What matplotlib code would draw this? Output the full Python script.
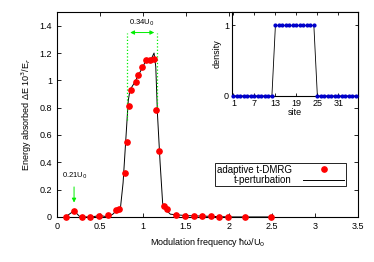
import matplotlib
matplotlib.use("Agg")
import matplotlib.pyplot as plt
from matplotlib.ticker import FuncFormatter
import numpy as np

plt.rcParams['font.family'] = ['Liberation Sans', 'DejaVu Sans']
plt.rcParams['font.size'] = 6.5

# adaptive t-DMRG points
dmrg_x = [0.11, 0.2, 0.29, 0.39, 0.49, 0.59, 0.69, 0.72, 0.79, 0.81, 0.84, 0.86,
          0.915, 0.94, 0.99, 1.04, 1.08, 1.13, 1.155, 1.19, 1.24, 1.28, 1.39, 1.49,
          1.59, 1.69, 1.79, 1.89, 1.99, 2.19, 2.49]
dmrg_y = [0.0, 0.04, 0.0, 0.0, 0.01, 0.017, 0.053, 0.06, 0.325, 0.55, 0.81, 0.93,
          0.99, 1.04, 1.097, 1.15, 1.15, 1.157, 0.78, 0.486, 0.08, 0.06, 0.017, 0.01,
          0.005, 0.005, 0.005, 0.003, 0.003, 0.003, 0.003]

# t-perturbation curve
pert_x = [0.1, 0.2, 0.27, 0.4, 0.5, 0.6, 0.65, 0.7, 0.74, 0.77, 0.8, 0.83, 0.85,
          0.9, 0.95, 1.0, 1.04, 1.1, 1.13, 1.15, 1.17, 1.2, 1.23, 1.27, 1.32, 1.4,
          1.5, 2.0, 2.5]
pert_y = [0.0, 0.045, 0.0, 0.0, 0.01, 0.0, 0.02, 0.05, 0.07, 0.25, 0.55, 0.85, 0.93,
          0.98, 1.04, 1.1, 1.15, 1.16, 1.2, 1.1, 0.75, 0.4, 0.1, 0.05, 0.02, 0.015,
          0.01, 0.0, 0.0]

# inset: initial density profile
sites = np.arange(1, 37)
density = [0] * 12 + [1] * 12 + [0] * 12

fig = plt.figure(figsize=(3.74, 2.62), dpi=100)
ax = fig.add_axes([0.152, 0.172, 0.805, 0.782])

ax.plot(pert_x, pert_y, color='black', lw=0.7, label='t-perturbation')
ax.plot(dmrg_x, dmrg_y, 'o', color='red', ms=3.8, label='adaptive t-DMRG',
        clip_on=False, zorder=3)

ax.set_xlim(0, 3.5)
ax.set_ylim(0, 1.5)
ax.set_xticks(np.arange(0, 3.51, 0.5))
ax.set_yticks(np.arange(0, 1.41, 0.2))
fmt = FuncFormatter(lambda v, p: '%g' % round(v, 2))
ax.xaxis.set_major_formatter(fmt)
ax.yaxis.set_major_formatter(fmt)
ax.tick_params(direction='in', top=True, right=True, length=3, width=0.6)
for s in ax.spines.values():
    s.set_linewidth(0.8)
ax.set_xlabel('Modulation frequency ħω/U$_0$')
ax.set_ylabel('Energy absorbed ΔE 10$^3$/E$_r$')

# annotations
green = '#00ee00'
ax.plot([0.82, 0.82], [0.71, 1.35], ':', color=green, lw=0.9)
ax.plot([1.165, 1.165], [0.78, 1.35], ':', color=green, lw=0.9)
ax.annotate('', xy=(0.82, 1.35), xytext=(1.165, 1.35),
            arrowprops=dict(arrowstyle='<|-|>', color=green, lw=0.7,
                            mutation_scale=6))
ax.text(0.99, 1.38, '0.34U$_0$', ha='center', va='bottom', fontsize=5.5)
ax.annotate('', xy=(0.2, 0.085), xytext=(0.2, 0.24),
            arrowprops=dict(arrowstyle='-|>', color=green, lw=0.7,
                            mutation_scale=6))
ax.text(0.21, 0.26, '0.21U$_0$', ha='center', va='bottom', fontsize=5.5)

handles, labels = ax.get_legend_handles_labels()
leg = ax.legend(handles[::-1], labels[::-1], loc='upper left',
                bbox_to_anchor=(0.526, 0.263), markerfirst=False, fancybox=False,
                framealpha=1, edgecolor='black', borderpad=0.15, labelspacing=0.05,
                handlelength=4.2, handletextpad=1.2, borderaxespad=0,
                fontsize=7)
leg.get_frame().set_linewidth(0.6)

# inset
ins = fig.add_axes([0.62, 0.634, 0.337, 0.32])
ins.plot(sites, density, color='black', lw=0.6)
ins.plot(sites, density, 'o', color='#0000cc', ms=2, clip_on=False, zorder=3)
ins.set_xlim(0.55, 36.6)
ins.set_ylim(0, 1.19)
ins.set_xticks([1, 7, 13, 19, 25, 31])
ins.set_yticks([0, 1])
ins.tick_params(direction='in', top=True, right=True, length=2.5, width=0.6,
                pad=2, labelsize=6.5)
for s in ins.spines.values():
    s.set_linewidth(0.8)
ins.set_xlabel('site', labelpad=0)
ins.set_ylabel('density', labelpad=2)

fig.savefig('out.png', dpi=100)
